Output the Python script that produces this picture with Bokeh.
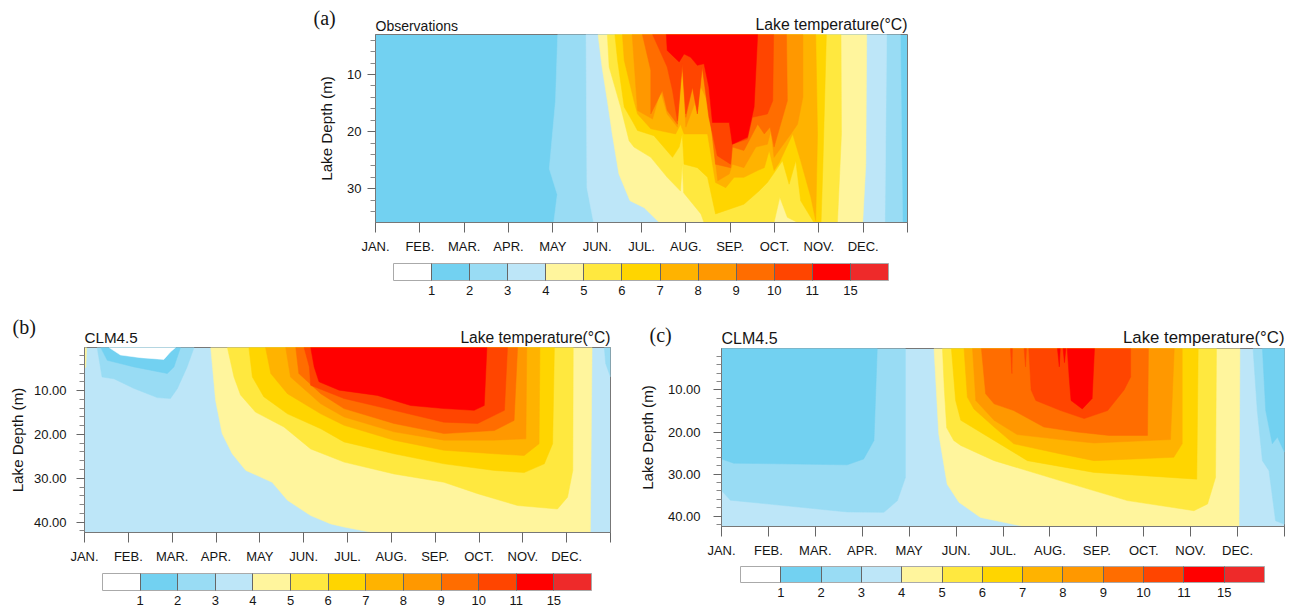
from bokeh.plotting import figure
from bokeh.layouts import column, row
from bokeh.models import (Range1d, FixedTicker, ColorBar, LinearColorMapper, Label, Spacer)
from bokeh.embed import file_html
from bokeh.resources import INLINE

MONTHS = ["JAN.", "FEB.", "MAR.", "APR.", "MAY", "JUN.", "JUL.", "AUG.", "SEP.", "OCT.", "NOV.", "DEC.", ""]
BAR_LABELS = ["1", "2", "3", "4", "5", "6", "7", "8", "9", "10", "11", "15"]
COLORS = ["#ffffff", "#72d1f1", "#99dcf4", "#bde6f8", "#fff59d", "#ffe83f", "#ffd500",
          "#ffb300", "#ff9800", "#ff6d00", "#ff4500", "#ff0000", "#ee2a2a"]
C1, C2, C3, C4, C5, C6, C7, C8, C9, C10, C11 = COLORS[1:12]

# Panel (a): isotherm outlines, month (0..12) and depth (m)
a_ge2_m = [4.11, 4.06, 3.92, 4.10, 4.02, 11.89, 11.84]
a_ge2_d = [3, 14.6, 26.5, 31, 35.9, 35.9, 3]
a_ge3_m = [4.75, 4.77, 4.92, 11.49, 11.53]
a_ge3_d = [3, 29.8, 35.9, 35.9, 3]
a_ge4_m = [5.02, 5.11, 5.23, 5.34, 5.49, 5.74, 6.06, 6.40, 10.99, 11.06, 11.08]
a_ge4_d = [3, 8.7, 14.6, 20.4, 27.4, 32.1, 33.3, 35.9, 35.9, 25.7, 3]
a_ge5_m = [5.23, 5.27, 5.53, 5.72, 5.83, 6.21, 6.58, 6.88, 6.92, 6.95, 7.34, 7.41, 8.99, 9.12, 9.29, 9.52, 10.42, 10.51, 10.5]
a_ge5_d = [3, 8.7, 15.7, 21.6, 22.7, 24.5, 28, 30.4, 25.7, 30.7, 34.4, 35.9, 35.9, 31.5, 35, 35.9, 35.9, 20.4, 3]
a_ge6_m = [5.40, 5.46, 5.61, 5.79, 5.91, 6.28, 6.70, 6.85, 6.92, 6.96, 7.26, 7.49, 7.67, 8.31, 8.65, 8.84, 9.18, 9.33, 9.48, 9.59, 9.89, 10.05, 10.09, 10.17]
a_ge6_d = [3, 7.5, 15.7, 18.1, 19.8, 20.7, 24.5, 22.7, 20.4, 25.7, 26.3, 28, 34.4, 32.7, 30.4, 28.9, 25.1, 29.2, 25.1, 32.1, 35.9, 35.9, 26.3, 3]
a_ge7_m = [5.57, 5.61, 5.83, 5.91, 6.21, 6.77, 6.88, 6.96, 7.49, 7.67, 7.90, 8.09, 8.31, 8.62, 8.77, 8.88, 8.99, 9.11, 9.41, 9.59, 9.82, 9.93, 9.97, 9.93]
a_ge7_d = [3, 7.5, 14.6, 16.9, 19.5, 20.4, 18.7, 20.4, 20.4, 28.9, 29.8, 28, 28, 26.8, 26.3, 23.3, 26.8, 25.4, 20.4, 25.1, 31.5, 35.6, 20.4, 3]
a_ge8_m = [5.79, 5.83, 5.91, 6.25, 6.43, 6.58, 6.81, 6.92, 7.0, 7.34, 7.49, 7.57, 7.72, 7.98, 8.05, 8.31, 8.58, 8.84, 8.92, 8.99, 9.37, 9.52, 9.64, 9.64]
a_ge8_d = [3, 7.5, 16.3, 17.8, 12.8, 16.9, 19.2, 7.5, 19.2, 12.2, 14.6, 19.2, 28.6, 27.4, 25.7, 26.3, 22.7, 22.2, 19.8, 24.5, 20.4, 18.7, 14, 3]
a_ge9_m = [6.02, 6.21, 6.21, 6.47, 6.58, 6.81, 6.92, 7.0, 7.15, 7.26, 7.37, 7.57, 7.67, 8.01, 8.05, 8.31, 8.62, 8.77, 8.90, 8.99, 9.29, 9.27]
a_ge9_d = [3, 9.3, 16.9, 12.8, 16.3, 18.7, 8.1, 17.5, 12.2, 16.3, 8.1, 18.7, 25.7, 26.3, 22.7, 23.3, 18.7, 20.4, 19.2, 22.7, 14.6, 3]
a_ge10_m = [6.25, 6.58, 6.70, 6.81, 6.88, 6.92, 7.0, 7.15, 7.26, 7.37, 7.52, 7.71, 8.01, 8.05, 8.39, 8.50, 8.84, 8.96, 8.98]
a_ge10_d = [3, 8.7, 12.8, 18.1, 11.6, 8.1, 16.9, 12.2, 16.9, 8.7, 17.5, 24.2, 25.7, 22.2, 21.3, 17.5, 16.9, 14.6, 3]
a_ge11_m = [6.56, 6.58, 6.85, 6.96, 7.11, 7.26, 7.41, 7.52, 7.60, 7.98, 8.05, 8.39, 8.54, 8.62]
a_ge11_d = [3, 5.8, 7.8, 6.4, 7, 8.4, 8.1, 12.2, 18.4, 18.4, 22.2, 21, 15.7, 3]

# Panel (b)
b_le3_m = [0.29, 0.40, 0.67, 1.13, 1.66, 1.96, 2.12, 2.34, 2.50]
b_le3_d = [0.18, 6.9, 7.3, 9.5, 11.6, 11.8, 9.5, 4.6, 0.18]
b_le2_m = [0.37, 0.52, 1.13, 1.89, 2.04, 2.19]
b_le2_d = [0.18, 3.1, 4.6, 6.1, 4.6, 0.18]
b_le1_m = [0.56, 0.82, 1.28, 1.81, 1.96, 2.08]
b_le1_d = [0.18, 1.9, 2.5, 2.9, 1.2, 0.18]
b_end_m = [11.86, 11.89, 12, 12]
b_end_d = [0.18, 3.8, 6.9, 0.18]
b_start_m = [0, 0.05, 0.03, 0]
b_start_d = [0.18, 0.18, 4.6, 5]
b_ge4_m = [2.88, 2.99, 3.14, 3.37, 3.68, 4.28, 4.63, 5.16, 5.62, 5.92, 6.57, 11.54, 11.58]
b_ge4_d = [0.18, 12.2, 19.8, 24.4, 28.2, 30.9, 35, 38.5, 40.4, 41.1, 42.35, 42.35, 0.18]
b_ge5_m = [3.26, 3.41, 3.56, 3.90, 4.55, 5.16, 5.92, 7.06, 8.2, 8.97, 9.88, 10.79, 11.02, 11.14, 11.15]
b_ge5_d = [0.18, 6.9, 11, 14.9, 18.3, 23.3, 26.3, 29, 30.9, 33.5, 36.2, 37, 34.3, 28.2, 0.18]
b_ge6_m = [3.75, 3.83, 4.09, 4.63, 5.39, 5.92, 7.06, 8.2, 9.35, 10.03, 10.49, 10.68, 10.72]
b_ge6_d = [0.18, 6.9, 11.4, 15.3, 18.7, 21.7, 24.4, 26.7, 28.2, 28.7, 26.7, 22.1, 0.18]
b_ge7_m = [4.13, 4.25, 4.63, 5.39, 5.92, 7.06, 8.2, 9.35, 10.03, 10.37, 10.39]
b_ge7_d = [0.18, 6.1, 10.7, 15.3, 17.9, 21.3, 23.6, 24.4, 24.8, 22.1, 0.18]
b_ge8_m = [4.59, 4.70, 5.39, 5.92, 7.06, 8.2, 9.35, 10.07, 10.09]
b_ge8_d = [0.18, 6.9, 13, 16, 19.4, 21.3, 21.3, 21, 0.18]
b_ge9_m = [4.82, 4.89, 5.39, 5.92, 7.06, 8.2, 9.35, 9.8, 9.88]
b_ge9_d = [0.18, 6.1, 10.7, 14.1, 17.5, 19.8, 19.1, 16.8, 0.18]
b_ge10_m = [5.01, 5.13, 5.16, 5.92, 7.06, 8.2, 8.97, 9.58, 9.65]
b_ge10_d = [0.18, 4.6, 8.8, 11.8, 14.5, 17.2, 17.5, 14.5, 0.18]
b_ge11_m = [5.16, 5.24, 5.35, 5.81, 6.68, 7.44, 8.2, 8.89, 9.12, 9.18]
b_ge11_d = [0.18, 4.6, 8, 9.9, 11.1, 13.4, 14.1, 14.5, 13.4, 0.18]

# Panel (c)
c_le3_m = [0, 0, 0.19, 2.68, 3.46, 3.75, 3.92, 3.92]
c_le3_d = [0.14, 33.9, 36.2, 39, 39.1, 36.3, 30.8, 0.14]
c_le2_m = [0, 0, 0.26, 2.68, 3.03, 3.25, 3.32]
c_le2_d = [0.14, 26.4, 27.4, 27.8, 26.4, 22, 0.14]
c_end3_m = [11.33, 11.42, 11.53, 11.67, 11.81, 12, 12]
c_end3_d = [0.14, 14.9, 26.8, 29.2, 41.1, 41.9, 0.14]
c_end2_m = [11.53, 11.6, 11.74, 11.85, 12, 12]
c_end2_d = [0.14, 14.9, 22.8, 21.2, 24.8, 0.14]
c_ge4_m = [4.53, 4.63, 4.81, 5.06, 5.52, 6.45, 11.03, 11.05]
c_ge4_d = [0.14, 20.4, 32.4, 36.7, 40.3, 42.46, 42.46, 0.14]
c_ge5_m = [4.71, 4.75, 4.80, 4.95, 5.1, 5.81, 7.23, 8.65, 10.07, 10.36, 10.53, 10.55]
c_ge5_d = [0.14, 10, 19, 22, 23.2, 26.8, 31.6, 36.3, 38.7, 37.1, 30.8, 0.14]
c_ge6_m = [4.9, 4.99, 5.1, 5.81, 6.52, 7.94, 10.13, 10.16]
c_ge6_d = [0.14, 12.5, 17.2, 22, 26.8, 29.6, 31.2, 0.14]
c_ge7_m = [5.17, 5.24, 5.38, 5.81, 6.23, 7.23, 7.94, 9.64, 9.82, 9.82]
c_ge7_d = [0.14, 11.7, 14.5, 18.8, 22.8, 25.2, 26.8, 26, 22.8, 0.14]
c_ge8_m = [5.35, 5.42, 5.81, 6.30, 7.23, 7.94, 9.57, 9.65]
c_ge8_d = [0.14, 12.5, 17.2, 20.6, 21.8, 22.6, 21.8, 0.14]
c_ge9_m = [5.54, 5.63, 5.81, 6.23, 6.87, 7.58, 8.26, 9.08, 9.1]
c_ge9_d = [0.14, 10.9, 13.3, 14.9, 18.8, 20, 20.8, 20.8, 0.14]
c_ge10_m = [6.55, 6.6, 6.7, 7.23, 7.73, 8.23, 8.58, 8.72, 8.72]
c_ge10_d = [0.14, 10, 12.5, 14.9, 16.8, 14.9, 10, 6.9, 0.14]
c_s1_m = [6.16, 6.2, 6.19]
c_s1_d = [0.14, 0.14, 6.1]
c_s2_m = [6.45, 6.5, 6.48]
c_s2_d = [0.14, 0.14, 4.5]
c_ge11_m = [7.37, 7.41, 7.45, 7.69, 7.90, 7.95]
c_ge11_d = [0.14, 6.9, 12.5, 14.5, 12, 0.14]
c_s3_m = [7.16, 7.22, 7.2]
c_s3_d = [0.14, 0.14, 4.5]
c_s4_m = [7.28, 7.34, 7.31]
c_s4_d = [0.14, 0.14, 3.5]

A_LAYERS = [(a_ge2_m, a_ge2_d, C2), (a_ge3_m, a_ge3_d, C3), (a_ge4_m, a_ge4_d, C4), (a_ge5_m, a_ge5_d, C5),
            (a_ge6_m, a_ge6_d, C6), (a_ge7_m, a_ge7_d, C7), (a_ge8_m, a_ge8_d, C8), (a_ge9_m, a_ge9_d, C9),
            (a_ge10_m, a_ge10_d, C10), (a_ge11_m, a_ge11_d, C11)]
B_LAYERS = [(b_le3_m, b_le3_d, C2), (b_le2_m, b_le2_d, C1), (b_le1_m, b_le1_d, COLORS[0]), (b_end_m, b_end_d, C2),
            (b_ge4_m, b_ge4_d, C4), (b_start_m, b_start_d, C4), (b_ge5_m, b_ge5_d, C5), (b_ge6_m, b_ge6_d, C6),
            (b_ge7_m, b_ge7_d, C7), (b_ge8_m, b_ge8_d, C8), (b_ge9_m, b_ge9_d, C9), (b_ge10_m, b_ge10_d, C10),
            (b_ge11_m, b_ge11_d, C11)]
C_LAYERS = [(c_le3_m, c_le3_d, C2), (c_le2_m, c_le2_d, C1), (c_end3_m, c_end3_d, C2), (c_end2_m, c_end2_d, C1),
            (c_ge4_m, c_ge4_d, C4), (c_ge5_m, c_ge5_d, C5), (c_ge6_m, c_ge6_d, C6), (c_ge7_m, c_ge7_d, C7),
            (c_ge8_m, c_ge8_d, C8), (c_ge9_m, c_ge9_d, C9), (c_ge10_m, c_ge10_d, C10), (c_s1_m, c_s1_d, C10),
            (c_s2_m, c_s2_d, C10), (c_ge11_m, c_ge11_d, C11), (c_s3_m, c_s3_d, C11), (c_s4_m, c_s4_d, C11)]

FONT = "Liberation Sans"


def panel(layers, background, depth_range, depth_ticks, depth_format, size, border, bar, texts, standoff):
    w, h = size
    left, right, top, bottom = border
    strip = figure(width=w, height=top - 1, x_range=Range1d(0, 1), y_range=Range1d(0, 1),
                   toolbar_location=None, output_backend="svg", x_axis_location=None, y_axis_location=None,
                   min_border=0, outline_line_color=None)
    strip.grid.visible = False
    for text, x, y, font, fsize, align in texts:
        strip.add_layout(Label(x=left + x, y=y - 1, x_units="screen", y_units="screen", text=text, text_font=font,
                               text_font_size=fsize, text_align=align, text_baseline="middle",
                               text_color="#151515"))

    p = figure(width=w, height=h - top + 1, x_range=Range1d(0, 12), y_range=Range1d(*depth_range),
               toolbar_location=None, output_backend="svg",
               min_border_left=left, min_border_right=right, min_border_top=1, min_border_bottom=bottom,
               background_fill_color=background, border_fill_color="white")
    p.grid.visible = False
    p.outline_line_color = "#777777"
    p.outline_line_width = 1
    for xs, ys, colour in layers:
        p.patch(xs, ys, fill_color=colour, line_color=colour, line_width=0.5)

    ax = p.xaxis[0]
    ax.ticker = FixedTicker(ticks=list(range(13)))
    ax.major_label_overrides = {i: m for i, m in enumerate(MONTHS)}
    ax.major_tick_in = 0
    ax.major_tick_out = 10
    ax.minor_tick_line_color = None
    ax.major_label_standoff = 6
    ax.major_label_text_font = FONT
    ax.major_label_text_font_size = "13px"
    ax.major_label_text_color = "#151515"
    ax.axis_line_color = "#777777"
    ax.major_tick_line_color = "#666666"

    ay = p.yaxis[0]
    lo, hi = sorted(depth_range)
    minor = [d for d in range(int(lo) + 1, int(hi) + 1) if d % 2 == 0 and d not in depth_ticks]
    ay.ticker = FixedTicker(ticks=depth_ticks, minor_ticks=minor)
    ay.major_label_overrides = {d: depth_format % d for d in depth_ticks}
    ay.major_tick_in = 0
    ay.major_tick_out = 8
    ay.minor_tick_in = 0
    ay.minor_tick_out = 5
    ay.major_label_standoff = standoff[0]
    ay.major_label_text_font = FONT
    ay.major_label_text_font_size = "13px"
    ay.major_label_text_color = "#151515"
    ay.axis_label = "Lake Depth (m)"
    ay.axis_label_text_font = FONT
    ay.axis_label_text_font_style = "normal"
    ay.axis_label_text_font_size = "15.2px"
    ay.axis_label_text_color = "#151515"
    ay.axis_label_standoff = standoff[1]
    ay.axis_line_color = "#777777"
    ay.major_tick_line_color = "#666666"
    ay.minor_tick_line_color = "#888888"

    bx, by, bw, bh = bar
    cb = ColorBar(color_mapper=LinearColorMapper(palette=COLORS, low=0, high=13),
                  ticker=FixedTicker(ticks=list(range(1, 13))),
                  major_label_overrides={i + 1: t for i, t in enumerate(BAR_LABELS)},
                  location=(bx, by), width=bw, height=bh, orientation="horizontal",
                  padding=0, margin=0, border_line_color=None, background_fill_alpha=0,
                  bar_line_color="#aaaaaa", major_tick_in=bh, major_tick_out=0,
                  major_tick_line_color="#666666", major_label_text_font=FONT,
                  major_label_text_font_size="13px", major_label_text_color="#151515",
                  label_standoff=standoff[2])
    p.add_layout(cb, "center")
    return column(row(strip, spacing=0), p, spacing=0)


fig_a = panel(A_LAYERS, C1, (35.9, 3), [10, 20, 30], "%d", (620, 310), (75, 13, 34, 88),
              (18, -75, 495, 17),
              [("(a)", -62, 17, "Liberation Serif", "20px", "left"),
               ("Observations", 0, 9, FONT, "14px", "left"),
               ("Lake temperature(°C)", 532, 10, FONT, "15.8px", "right")], (6, 9, 5))
fig_b = panel(B_LAYERS, C3, (42.35, 0.18), [10, 20, 30, 40], "%d.00", (625, 296), (84, 15, 37, 74),
              (18, -75, 489, 17),
              [("(b)", -72, 21, "Liberation Serif", "20px", "left"),
               ("CLM4.5", 0, 10, FONT, "15.2px", "left"),
               ("Lake temperature(°C)", 526, 10, FONT, "15.6px", "right")], (10, 5, 5))
fig_c = panel(C_LAYERS, C3, (42.46, 0.14), [10, 20, 30, 40], "%d.00", (660, 296), (96, 1, 38, 80),
              (19, -73, 524, 16),
              [("(c)", -72, 14, "Liberation Serif", "20px", "left"),
               ("CLM4.5", 0, 10, FONT, "16px", "left"),
               ("Lake temperature(°C)", 563, 11, FONT, "16.8px", "right")], (13, 9, 5))

layout = column(row(Spacer(width=300, height=310), fig_a, spacing=0), row(fig_b, fig_c, spacing=0), spacing=0)
open("out.html", "w").write(file_html(layout, INLINE))
